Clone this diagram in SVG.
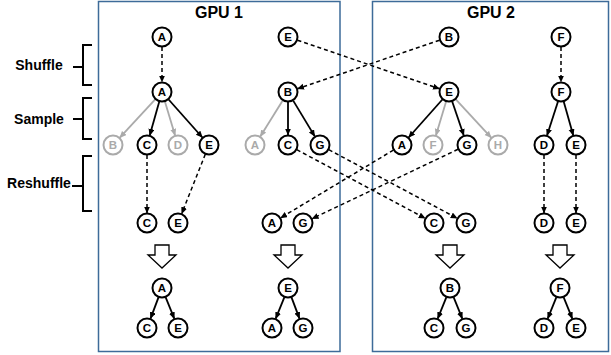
<svg xmlns="http://www.w3.org/2000/svg" width="611" height="355" viewBox="0 0 611 355">
<defs>
<marker id="ah" markerUnits="userSpaceOnUse" markerWidth="8" markerHeight="7" refX="6.5" refY="3" orient="auto"><path d="M0,0 L7,3 L0,6 z" fill="#000"/></marker>
<marker id="ahg" markerUnits="userSpaceOnUse" markerWidth="8" markerHeight="7" refX="6.5" refY="3" orient="auto"><path d="M0,0 L7,3 L0,6 z" fill="#aaa"/></marker>
</defs>
<style>
.box{fill:none;stroke:#3d6b99;stroke-width:1.5}
.title{font-family:"Liberation Sans",Arial,sans-serif;font-weight:bold;font-size:16px;text-anchor:middle}
.lbl{font-family:"Liberation Sans",Arial,sans-serif;font-weight:bold;font-size:14px;text-anchor:middle}
.brace{fill:none;stroke:#000;stroke-width:2}
.n circle{fill:#fff;stroke:#000;stroke-width:2}
.n text{font-family:"Liberation Sans",Arial,sans-serif;font-weight:bold;font-size:11.5px;text-anchor:middle;fill:#000}
.g circle{stroke:#aaa}
.g text{fill:#aaa}
.e{stroke:#000;stroke-width:1.8;fill:none;marker-end:url(#ah)}
.eg{stroke:#aaa;stroke-width:1.8;fill:none;marker-end:url(#ahg)}
.d{stroke:#000;stroke-width:1.5;fill:none;stroke-dasharray:4 3;marker-end:url(#ah)}
.big{fill:#fff;stroke:#000;stroke-width:1.3}
</style>
<g id="gpu1"><rect class="box" x="98.5" y="1.5" width="241.5" height="350"/><text class="title" x="219" y="18">GPU 1</text></g>
<g id="gpu2"><rect class="box" x="372.5" y="1.5" width="236" height="350"/><text class="title" x="491" y="18">GPU 2</text></g>
<g id="labels">
<text class="lbl" x="39" y="70">Shuffle</text>
<path class="brace" d="M92,45 H83 V85 H92 M83,67 H73"/>
<text class="lbl" x="39" y="124">Sample</text>
<path class="brace" d="M92,98 H83 V139 H92 M83,119 H73"/>
<text class="lbl" x="39" y="188">Reshuffle</text>
<path class="brace" d="M92,156 H83 V211 H92 M83,186 H72"/>
</g>
<g id="connectors">
<line class="d" x1="162" y1="47" x2="162" y2="82"/>
<line class="d" x1="297.5" y1="40.2" x2="439.5" y2="88.8"/>
<line class="d" x1="439.5" y1="40.2" x2="297.5" y2="88.8"/>
<line class="d" x1="561" y1="47" x2="561" y2="82"/>
<line class="eg" x1="155.2" y1="99.3" x2="119.8" y2="137.7"/>
<line class="e" x1="159.3" y1="101.6" x2="149.7" y2="135.4"/>
<line class="eg" x1="164.9" y1="101.6" x2="175.1" y2="135.4"/>
<line class="e" x1="168.6" y1="99.5" x2="202.4" y2="137.5"/>
<line class="eg" x1="282.7" y1="100.5" x2="260.3" y2="136.5"/>
<line class="e" x1="288" y1="102" x2="288" y2="135"/>
<line class="e" x1="293.2" y1="100.6" x2="314.8" y2="136.4"/>
<line class="e" x1="442.4" y1="99.5" x2="408.6" y2="137.5"/>
<line class="eg" x1="446.1" y1="101.6" x2="435.9" y2="135.4"/>
<line class="e" x1="452.2" y1="101.5" x2="463.8" y2="135.5"/>
<line class="eg" x1="455.8" y1="99.3" x2="491.2" y2="137.7"/>
<line class="e" x1="558" y1="101.5" x2="547" y2="135.5"/>
<line class="e" x1="563.7" y1="101.6" x2="573.3" y2="135.4"/>
<line class="d" x1="147" y1="155" x2="147" y2="213"/>
<line class="d" x1="205.3" y1="154.3" x2="181.7" y2="213.7"/>
<line class="d" x1="393.4" y1="150.1" x2="280.6" y2="217.9"/>
<line class="d" x1="458" y1="149.3" x2="312" y2="218.7"/>
<line class="d" x1="296.8" y1="149.7" x2="425.2" y2="218.3"/>
<line class="d" x1="328.8" y1="149.7" x2="457.2" y2="218.3"/>
<line class="d" x1="544" y1="155" x2="544" y2="213"/>
<line class="d" x1="576" y1="155" x2="576" y2="213"/>
<line class="e" x1="158.5" y1="297.4" x2="150.5" y2="318.6"/>
<line class="e" x1="165.7" y1="297.3" x2="174.3" y2="318.7"/>
<line class="e" x1="284.3" y1="297.3" x2="275.7" y2="318.7"/>
<line class="e" x1="291.5" y1="297.4" x2="299.5" y2="318.6"/>
<line class="e" x1="446.3" y1="297.3" x2="437.7" y2="318.7"/>
<line class="e" x1="453.7" y1="297.3" x2="462.3" y2="318.7"/>
<line class="e" x1="556.3" y1="297.3" x2="547.7" y2="318.7"/>
<line class="e" x1="563.7" y1="297.3" x2="572.3" y2="318.7"/>
</g>
<g id="bigarrows">
<path class="big" d="M155,245 H169 V255 H176 L162,268 L148,255 H155 Z"/>
<path class="big" d="M281,245 H295 V255 H302 L288,268 L274,255 H281 Z"/>
<path class="big" d="M443,245 H457 V255 H464 L450,268 L436,255 H443 Z"/>
<path class="big" d="M553,245 H567 V255 H574 L560,268 L546,255 H553 Z"/>
</g>
<g id="n1" class="n"><circle cx="162" cy="37" r="9.5"/><text x="162" y="41.2">A</text></g>
<g id="n2" class="n"><circle cx="288" cy="37" r="9.5"/><text x="288" y="41.2">E</text></g>
<g id="n3" class="n"><circle cx="449" cy="37" r="9.5"/><text x="449" y="41.2">B</text></g>
<g id="n4" class="n"><circle cx="561" cy="37" r="9.5"/><text x="561" y="41.2">F</text></g>
<g id="n5" class="n"><circle cx="162" cy="92" r="9.5"/><text x="162" y="96.2">A</text></g>
<g id="n6" class="n"><circle cx="288" cy="92" r="9.5"/><text x="288" y="96.2">B</text></g>
<g id="n7" class="n"><circle cx="449" cy="92" r="9.5"/><text x="449" y="96.2">E</text></g>
<g id="n8" class="n"><circle cx="561" cy="92" r="9.5"/><text x="561" y="96.2">F</text></g>
<g id="n9" class="n g"><circle cx="113" cy="145" r="9.5"/><text x="113" y="149.2">B</text></g>
<g id="n10" class="n"><circle cx="147" cy="145" r="9.5"/><text x="147" y="149.2">C</text></g>
<g id="n11" class="n g"><circle cx="178" cy="145" r="9.5"/><text x="178" y="149.2">D</text></g>
<g id="n12" class="n"><circle cx="209" cy="145" r="9.5"/><text x="209" y="149.2">E</text></g>
<g id="n13" class="n g"><circle cx="255" cy="145" r="9.5"/><text x="255" y="149.2">A</text></g>
<g id="n14" class="n"><circle cx="288" cy="145" r="9.5"/><text x="288" y="149.2">C</text></g>
<g id="n15" class="n"><circle cx="320" cy="145" r="9.5"/><text x="320" y="149.2">G</text></g>
<g id="n16" class="n"><circle cx="402" cy="145" r="9.5"/><text x="402" y="149.2">A</text></g>
<g id="n17" class="n g"><circle cx="433" cy="145" r="9.5"/><text x="433" y="149.2">F</text></g>
<g id="n18" class="n"><circle cx="467" cy="145" r="9.5"/><text x="467" y="149.2">G</text></g>
<g id="n19" class="n g"><circle cx="498" cy="145" r="9.5"/><text x="498" y="149.2">H</text></g>
<g id="n20" class="n"><circle cx="544" cy="145" r="9.5"/><text x="544" y="149.2">D</text></g>
<g id="n21" class="n"><circle cx="576" cy="145" r="9.5"/><text x="576" y="149.2">E</text></g>
<g id="n22" class="n"><circle cx="147" cy="223" r="9.5"/><text x="147" y="227.2">C</text></g>
<g id="n23" class="n"><circle cx="178" cy="223" r="9.5"/><text x="178" y="227.2">E</text></g>
<g id="n24" class="n"><circle cx="272" cy="223" r="9.5"/><text x="272" y="227.2">A</text></g>
<g id="n25" class="n"><circle cx="303" cy="223" r="9.5"/><text x="303" y="227.2">G</text></g>
<g id="n26" class="n"><circle cx="434" cy="223" r="9.5"/><text x="434" y="227.2">C</text></g>
<g id="n27" class="n"><circle cx="466" cy="223" r="9.5"/><text x="466" y="227.2">G</text></g>
<g id="n28" class="n"><circle cx="544" cy="223" r="9.5"/><text x="544" y="227.2">D</text></g>
<g id="n29" class="n"><circle cx="576" cy="223" r="9.5"/><text x="576" y="227.2">E</text></g>
<g id="n30" class="n"><circle cx="162" cy="288" r="9.5"/><text x="162" y="292.2">A</text></g>
<g id="n31" class="n"><circle cx="147" cy="328" r="9.5"/><text x="147" y="332.2">C</text></g>
<g id="n32" class="n"><circle cx="178" cy="328" r="9.5"/><text x="178" y="332.2">E</text></g>
<g id="n33" class="n"><circle cx="288" cy="288" r="9.5"/><text x="288" y="292.2">E</text></g>
<g id="n34" class="n"><circle cx="272" cy="328" r="9.5"/><text x="272" y="332.2">A</text></g>
<g id="n35" class="n"><circle cx="303" cy="328" r="9.5"/><text x="303" y="332.2">G</text></g>
<g id="n36" class="n"><circle cx="450" cy="288" r="9.5"/><text x="450" y="292.2">B</text></g>
<g id="n37" class="n"><circle cx="434" cy="328" r="9.5"/><text x="434" y="332.2">C</text></g>
<g id="n38" class="n"><circle cx="466" cy="328" r="9.5"/><text x="466" y="332.2">G</text></g>
<g id="n39" class="n"><circle cx="560" cy="288" r="9.5"/><text x="560" y="292.2">F</text></g>
<g id="n40" class="n"><circle cx="544" cy="328" r="9.5"/><text x="544" y="332.2">D</text></g>
<g id="n41" class="n"><circle cx="576" cy="328" r="9.5"/><text x="576" y="332.2">E</text></g>
</svg>
